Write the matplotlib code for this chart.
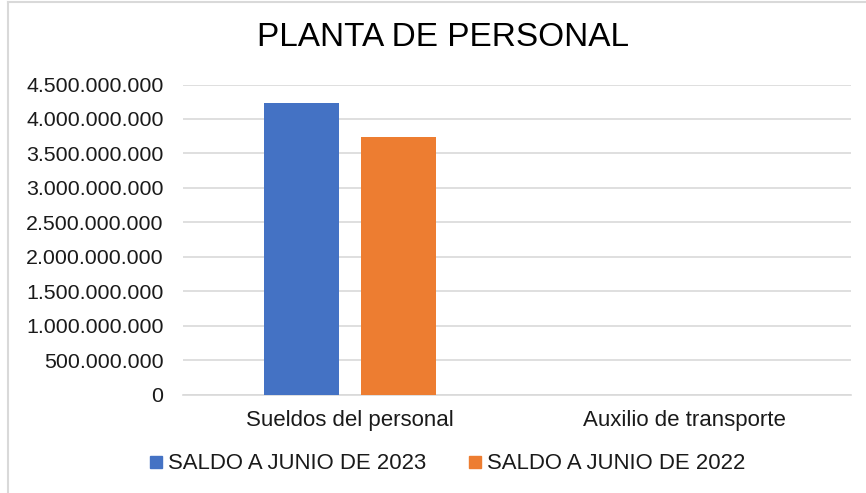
import matplotlib.pyplot as plt
from matplotlib.lines import Line2D
from matplotlib.ticker import FuncFormatter, MultipleLocator
import numpy as np

# datos
categorias = ["Sueldos del personal", "Auxilio de transporte"]
saldo_2023 = [4232000000, 0]
saldo_2022 = [3740000000, 0]
series = ["SALDO A JUNIO DE 2023", "SALDO A JUNIO DE 2022"]
colores = ["#4472C4", "#ED7D31"]

plt.rcParams['font.family'] = ['Liberation Sans', 'DejaVu Sans']

fig = plt.figure(figsize=(8.66, 4.93), dpi=100)
ax = fig.add_axes([0.2113, 0.1988, 0.7714, 0.6298])

x = np.arange(len(categorias))
ancho = 0.225
ax.bar(x - 0.144, saldo_2023, ancho, color=colores[0], zorder=3)
ax.bar(x + 0.144, saldo_2022, ancho, color=colores[1], zorder=3)

ax.set_xlim(-0.5, 1.5)
ax.set_ylim(0, 4500000000)
ax.yaxis.set_major_locator(MultipleLocator(500000000))
ax.yaxis.set_major_formatter(FuncFormatter(lambda v, p: f"{int(v):,}".replace(",", ".")))
ax.set_xticks(x)
ax.set_xticklabels(categorias)

ax.grid(axis='y', color='#d9d9d9', linewidth=1.2, zorder=0)
for lado in ['top', 'right', 'left']:
    ax.spines[lado].set_visible(False)
ax.spines['bottom'].set_color('#d9d9d9')
ax.spines['bottom'].set_linewidth(1.2)
ax.tick_params(axis='y', length=0, pad=14, labelsize=15.4, labelcolor='#1a1a1a')
ax.tick_params(axis='x', length=0, pad=11, labelsize=16, labelcolor='#1a1a1a')

fig.text(0.5115, 0.9067, "PLANTA DE PERSONAL", ha='center', va='baseline',
         fontsize=24, color='black')

manejadores = [Line2D([], [], marker='s', linestyle='none', markersize=8, color=c)
               for c in colores]
fig.legend(manejadores, series, loc='center', bbox_to_anchor=(0.517, 0.059), ncol=2,
           frameon=False, fontsize=15.9, handlelength=0.6, handletextpad=0.25,
           columnspacing=1.9, labelcolor='#1a1a1a')

# borde del grafico
fig.add_artist(Line2D([8 / 866, 8 / 866], [0, 1 - 1.5 / 493], transform=fig.transFigure,
                      color='#d9d9d9', linewidth=1.5))
fig.add_artist(Line2D([8 / 866, 1], [1 - 1.5 / 493, 1 - 1.5 / 493], transform=fig.transFigure,
                      color='#d9d9d9', linewidth=1.5))

plt.savefig("out.png", dpi=100)
